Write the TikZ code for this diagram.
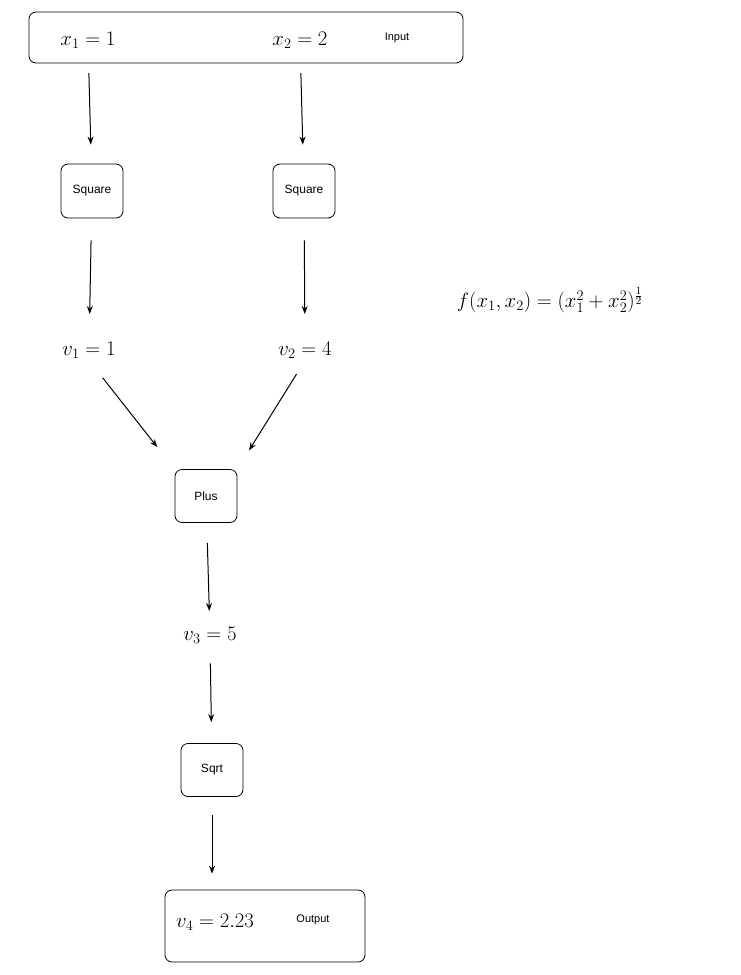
\documentclass[tikz,border=0pt]{standalone}
\usepackage{fontspec}
\newfontfamily\lab{Liberation Sans}
\usetikzlibrary{arrows.meta}
\begin{document}
\begin{tikzpicture}[x=1pt,y=-1pt,
  box/.style={draw,rounded corners=7pt,line width=0.8pt,font=\lab\fontsize{12}{14}\selectfont},
  m/.style={font=\fontsize{20}{24}\selectfont,inner sep=2pt},
  lb/.style={font=\lab\fontsize{11}{13}\selectfont},
  ar/.style={-{Stealth[length=8pt,width=6pt]},line width=1pt}]
\useasboundingbox (0,0) rectangle (741,975);
\node[box,minimum width=434pt,minimum height=51pt] (in) at (246,37.5) {};
\node[m] (x1) at (88,40) {$x_1=1$};
\node[m] (x2) at (300,40) {$x_2=2$};
\node[lb] (inl) at (397,38) {Input};
\node[box,minimum width=62pt,minimum height=54pt] (s1) at (92,191) {Square};
\node[box,minimum width=62pt,minimum height=54pt] (s2) at (304,191) {Square};
\node[m] (v1) at (89,350) {$v_1=1$};
\node[m] (v2) at (305,350) {$v_2=4$};
\node[box,minimum width=62pt,minimum height=53pt] (pl) at (206,496) {Plus};
\node[m] (v3) at (210,635) {$v_3=5$};
\node[box,minimum width=62pt,minimum height=53pt] (sq) at (212,770) {Sqrt};
\node[box,minimum width=200pt,minimum height=72pt] (out) at (265,926) {};
\node[m] (v4) at (215,922) {$v_4=2.23$};
\node[lb] (outl) at (313,920) {Output};
\node[font=\fontsize{22}{26}\selectfont] (f) at (550,300) {$f(x_1,x_2)=(x_1^2+x_2^2)^{\frac12}$};
\draw[ar,shorten <=33pt,shorten >=19pt] (x1.center) -- (s1);
\draw[ar,shorten <=33pt,shorten >=19pt] (x2.center) -- (s2);
\draw[ar,shorten <=22pt,shorten >=36pt] (s1) -- (v1.center);
\draw[ar,shorten <=22pt,shorten >=36pt] (s2) -- (v2.center);
\draw[ar,shorten <=22pt,shorten >=28pt] (v1.south) -- (pl.north west);
\draw[ar,shorten <=16pt,shorten >=22pt] (v2.south) -- (pl.north east);
\draw[ar,shorten <=20pt,shorten >=24pt] (pl) -- (v3.center);
\draw[ar,shorten <=18pt,shorten >=21pt] (v3) -- (sq);
\draw[ar,shorten <=18pt,shorten >=16pt] (sq) -- (out.north -| sq);
\end{tikzpicture}
\end{document}
